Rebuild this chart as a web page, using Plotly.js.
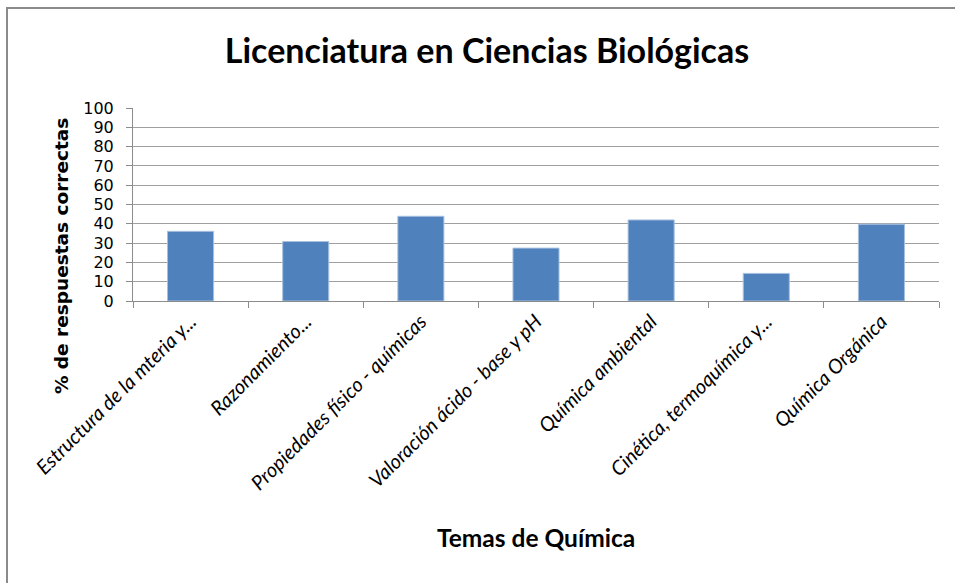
<!DOCTYPE html>
<html>
<head>
<meta charset="utf-8">
<script src="https://cdn.plot.ly/plotly-3.0.1.min.js"></script>
<style>
html,body{margin:0;padding:0;background:#fff;}
#wrap{position:relative;width:955px;height:583px;overflow:hidden;}
#chart{width:955px;height:583px;}
#frame{position:absolute;left:6px;top:7px;width:1000px;height:700px;border:2px solid #8a8a8a;pointer-events:none;}
</style>
</head>
<body>
<div id="wrap"><div id="chart"></div><div id="frame"></div></div>
<script>
const categories = [
  "Estructura de la mteria y...",
  "Razonamiento...",
  "Propiedades físico - químicas",
  "Valoración ácido - base y pH",
  "Química ambiental",
  "Cinética, termoquímica y...",
  "Química Orgánica"
];
const values = [36.1, 30.8, 43.9, 27.4, 42.0, 14.3, 39.8];
const yTicks = [0,10,20,30,40,50,60,70,80,90,100];

const L = 133, R = 939, T = 107.5, B = 301;
const W = 955, H = 583;
const pw = R - L, ph = B - T;
const px2x = x => (x - L) / pw;
const px2y = y => (B - y) / ph;

const trace = {
  type: 'bar',
  x: categories,
  y: values,
  marker: {color: '#4f81bd', line: {color: '#a7c0de', width: 1}},
  hoverinfo: 'x+y'
};

const layout = {
  width: W, height: H,
  margin: {l: L, r: W - R, t: T, b: H - B, pad: 0},
  paper_bgcolor: '#ffffff',
  plot_bgcolor: '#ffffff',
  bargap: 0.6,
  showlegend: false,
  title: {
    text: '<b>Licenciatura en Ciencias Biológicas</b>',
    font: {family: 'Lato, sans-serif', size: 34, color: '#000'},
    xref: 'container', yref: 'container',
    x: 487 / W, y: 1 - 51 / H, xanchor: 'center', yanchor: 'middle'
  },
  xaxis: {
    type: 'category',
    tickson: 'boundaries',
    ticks: 'outside', ticklen: 6, tickcolor: '#8c8c8c', tickwidth: 1,
    showline: true, linecolor: '#8c8c8c', linewidth: 1,
    showgrid: false,
    tickangle: -45,
    tickfont: {family: 'Lato, sans-serif', size: 20, color: '#000', style: 'italic'},
    automargin: false
  },
  yaxis: {
    range: [0, 100],
    tickvals: yTicks,
    ticktext: yTicks.map(String),
    ticks: 'outside', ticklen: 6, tickcolor: '#8c8c8c', tickwidth: 1,
    showline: true, linecolor: '#8c8c8c', linewidth: 1,
    showgrid: true, gridcolor: '#a0a0a0', gridwidth: 1,
    zeroline: false,
    tickfont: {family: '"DejaVu Sans", Verdana, sans-serif', size: 16, color: '#000'},
    ticklabelstandoff: 9,
    automargin: false
  },
  annotations: [
    {
      text: '<b>% de respuestas correctas</b>',
      xref: 'paper', yref: 'paper',
      x: px2x(61), y: px2y(256),
      xanchor: 'center', yanchor: 'middle',
      textangle: -90, showarrow: false,
      font: {family: '"DejaVu Sans", Verdana, sans-serif', size: 18.5, color: '#000'}
    },
    {
      text: '<b>Temas de Química</b>',
      xref: 'paper', yref: 'paper',
      x: px2x(536), y: px2y(538),
      xanchor: 'center', yanchor: 'middle',
      showarrow: false,
      font: {family: 'Lato, sans-serif', size: 24.5, color: '#000'}
    }
  ]
};

Plotly.newPlot('chart', [trace], layout, {displayModeBar: false, staticPlot: true});
</script>
</body>
</html>
